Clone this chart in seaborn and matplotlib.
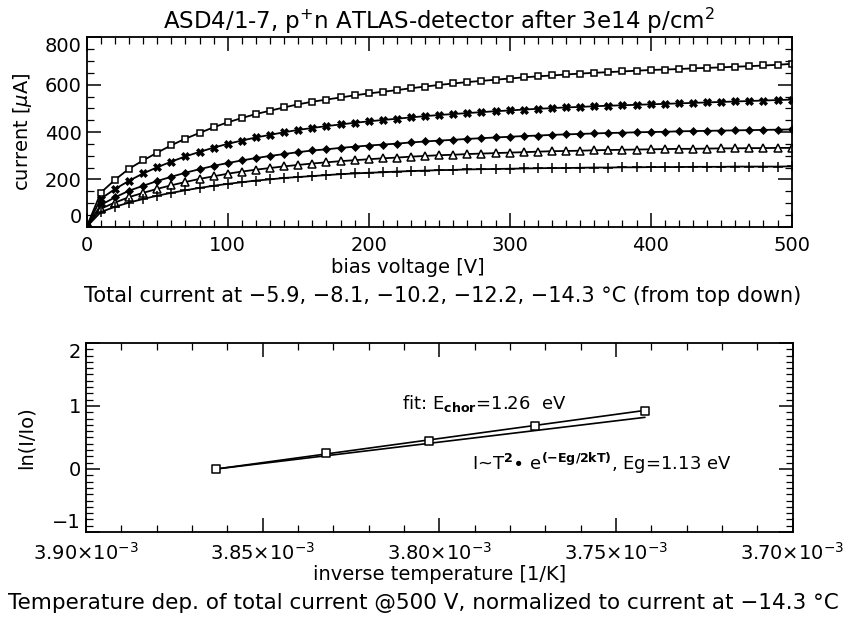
import matplotlib
matplotlib.use("Agg")
import matplotlib.pyplot as plt
import seaborn as sns
import pandas as pd
from matplotlib.ticker import MultipleLocator, FixedLocator

sns.set_theme(style="white")
plt.rcParams['font.family'] = ['DejaVu Sans']
plt.rcParams['mathtext.fontset'] = 'dejavusans'
plt.rcParams['text.color'] = 'black'
plt.rcParams['axes.labelcolor'] = 'black'
plt.rcParams['xtick.color'] = 'black'
plt.rcParams['ytick.color'] = 'black'

# ---------------- data: top panel (bias scan) ----------------
bias_v = [0, 10, 20, 30, 40, 50, 60, 70, 80, 90, 100, 110, 120, 130, 140, 150,
          160, 170, 180, 190, 200, 210, 220, 230, 240, 250, 260, 270, 280, 290,
          300, 310, 320, 330, 340, 350, 360, 370, 380, 390, 400, 410, 420, 430,
          440, 450, 460, 470, 480, 490, 500]

cur_m5_9 = [0, 144, 198, 245, 280, 313, 344, 372, 396, 420, 441, 459, 476, 490, 504, 517,
            528, 537, 546, 555, 563, 570, 577, 585, 592, 599, 605, 611, 616, 621,
            626, 631, 635, 639, 643, 647, 650, 653, 656, 659, 662, 664, 666, 669,
            671, 673, 676, 678, 681, 684, 688]
cur_m8_1 = [0, 118, 159, 194, 225, 251, 275, 297, 316, 334, 350, 364, 377, 388, 399, 409,
            417, 425, 432, 439, 445, 451, 456, 462, 467, 472, 476, 480, 484, 488,
            491, 495, 498, 501, 504, 506, 509, 511, 513, 515, 517, 519, 521, 523,
            525, 527, 529, 531, 533, 535, 537]
cur_m10_2 = [0, 92, 124, 152, 173, 193, 211, 228, 243, 257, 269, 280, 290, 299, 307, 315,
             322, 327, 333, 338, 343, 347, 351, 356, 360, 364, 367, 371, 374, 377,
             380, 383, 385, 388, 390, 392, 394, 396, 397, 399, 400, 401, 403, 404,
             405, 406, 407, 408, 409, 410, 411]
cur_m12_2 = [0, 76, 102, 125, 143, 160, 175, 189, 202, 213, 224, 233, 241, 248, 255, 261,
             267, 272, 277, 281, 285, 289, 292, 296, 299, 302, 304, 307, 309, 311,
             313, 315, 317, 319, 320, 321, 323, 324, 325, 326, 327, 328, 329, 329,
             330, 331, 331, 332, 332, 333, 333]
cur_m14_3 = [0, 62, 84, 102, 117, 131, 143, 154, 164, 173, 181, 188, 195, 200, 206, 210,
             214, 218, 222, 225, 228, 230, 233, 235, 237, 239, 240, 242, 243, 244,
             245, 246, 247, 248, 248, 249, 250, 250, 251, 251, 252, 252, 252, 253,
             253, 253, 254, 254, 254, 254, 255]

temps_label = ["-5.9", "-8.1", "-10.2", "-12.2", "-14.3"]

# ---------------- data: bottom panel (Arrhenius) ----------------
inv_temp = [3.8632e-3, 3.8322e-3, 3.8030e-3, 3.7729e-3, 3.7418e-3]
ln_ratio = [0.0, 0.26, 0.44, 0.68, 0.925]
fit_x = [3.8632e-3, 3.7418e-3]
fit_y = [0.0, 0.93]
theory_y = [0.0, 0.82]

xticks_bot = [3.90e-3, 3.85e-3, 3.80e-3, 3.75e-3, 3.70e-3]
xticklabels_bot = ["3.90", "3.85", "3.80", "3.75", "3.70"]

FS = 14
FS_CAP = 15

fig = plt.figure(figsize=(8.51, 6.21), dpi=100)
ax1 = fig.add_axes([0.1019, 0.6349, 0.8284, 0.3050])
ax2 = fig.add_axes([0.1011, 0.1433, 0.8303, 0.3044])

# ---- top panel ----
series = [
    (cur_m5_9, dict(marker='s', markersize=5, markerfacecolor='white', markeredgewidth=1.1)),
    (cur_m8_1, dict(marker='X', markersize=6, markerfacecolor='black', markeredgewidth=0.5)),
    (cur_m10_2, dict(marker='D', markersize=4.5, markerfacecolor='black', markeredgewidth=0.5)),
    (cur_m12_2, dict(marker='^', markersize=5.5, markerfacecolor='white', markeredgewidth=1.1)),
    (cur_m14_3, dict(marker='+', markersize=7, markeredgewidth=1.1)),
]
for vals, mk in series:
    df = pd.DataFrame({"V": bias_v, "I": vals})
    sns.lineplot(data=df, x="V", y="I", ax=ax1, color='black', linewidth=1.3,
                 markeredgecolor='black', **mk)

ax1.set_xlim(0, 500)
ax1.set_ylim(0, 800)
ax1.xaxis.set_major_locator(FixedLocator([0, 100, 200, 300, 400, 500]))
ax1.xaxis.set_minor_locator(MultipleLocator(10))
ax1.yaxis.set_major_locator(FixedLocator([0, 200, 400, 600, 800]))
ax1.yaxis.set_minor_locator(MultipleLocator(50))
ax1.set_xlabel("bias voltage [V]", fontsize=FS, labelpad=1)
ax1.xaxis.set_label_coords(0.455, -0.165)
ax1.set_ylabel("current [$\\mu$A]", fontsize=FS, labelpad=8)
ax1.set_title("ASD4/1-7, p$^{+}$n ATLAS-detector after 3e14 p/cm$^{2}$", fontsize=16.5, pad=6)

# ---- bottom panel ----
df_pts = pd.DataFrame({"x": inv_temp, "y": ln_ratio})
sns.lineplot(data=pd.DataFrame({"x": fit_x, "y": fit_y}), x="x", y="y", ax=ax2,
             color='black', linewidth=1.2)
sns.lineplot(data=pd.DataFrame({"x": fit_x, "y": theory_y}), x="x", y="y", ax=ax2,
             color='black', linewidth=1.2)
sns.scatterplot(data=df_pts, x="x", y="y", ax=ax2, marker='s', s=40,
                facecolor='white', edgecolor='black', linewidth=1.1, zorder=5)

ax2.set_xlim(3.90e-3, 3.70e-3)
ax2.set_ylim(-1, 2)
ax2.xaxis.set_major_locator(FixedLocator(xticks_bot))
ax2.set_xticklabels([f"{t}$\\times$10$^{{-3}}$" for t in xticklabels_bot])
ax2.xaxis.set_minor_locator(MultipleLocator(0.01e-3))
ax2.yaxis.set_major_locator(FixedLocator([-1, 0, 1, 2]))
ax2.yaxis.set_minor_locator(MultipleLocator(0.1))
ax2.set_xlabel("inverse temperature [1/K]", fontsize=FS, labelpad=1)
ax2.set_ylabel("ln(I/Io)", fontsize=FS, labelpad=12)

ax2.text(3.8107e-3, 0.96, "fit: E$_{\\mathbf{chor}}$=1.26  eV", fontsize=13,
         ha='left', va='baseline')
ax2.text(3.7908e-3, -0.02, "I~T$^{\\mathbf{2}}$$\\bullet$ e$^{\\mathbf{(-Eg/2kT)}}$, Eg=1.13 eV",
         fontsize=13, ha='left', va='baseline')

for ax in (ax1, ax2):
    for sp in ax.spines.values():
        sp.set_linewidth(1.3)
        sp.set_color('black')
    ax.tick_params(which='both', direction='in', top=True, right=True,
                   bottom=True, left=True, colors='black', labelsize=FS)
    ax.tick_params(which='major', length=10, width=1.1)
    ax.tick_params(which='minor', length=5, width=0.9)
    ax.tick_params(axis='x', pad=7)
    ax.grid(False)

# end labels shifted inward like the original
ax1.yaxis.get_major_ticks()[0].label1.set_va('bottom')
ax1.yaxis.get_major_ticks()[-1].label1.set_va('top')
ax2.yaxis.get_major_ticks()[0].label1.set_va('bottom')
ax2.yaxis.get_major_ticks()[-1].label1.set_va('top')

fig.text(0.52, 0.523, "Total current at \u22125.9, \u22128.1, \u221210.2, \u221212.2, \u221214.3 \u00b0C (from top down)",
         ha='center', va='center', fontsize=FS_CAP)
fig.text(0.497, 0.029, "Temperature dep. of total current @500 V, normalized to current at \u221214.3 \u00b0C",
         ha='center', va='center', fontsize=FS_CAP + 0.5)

fig.savefig("out.png", dpi=100)
